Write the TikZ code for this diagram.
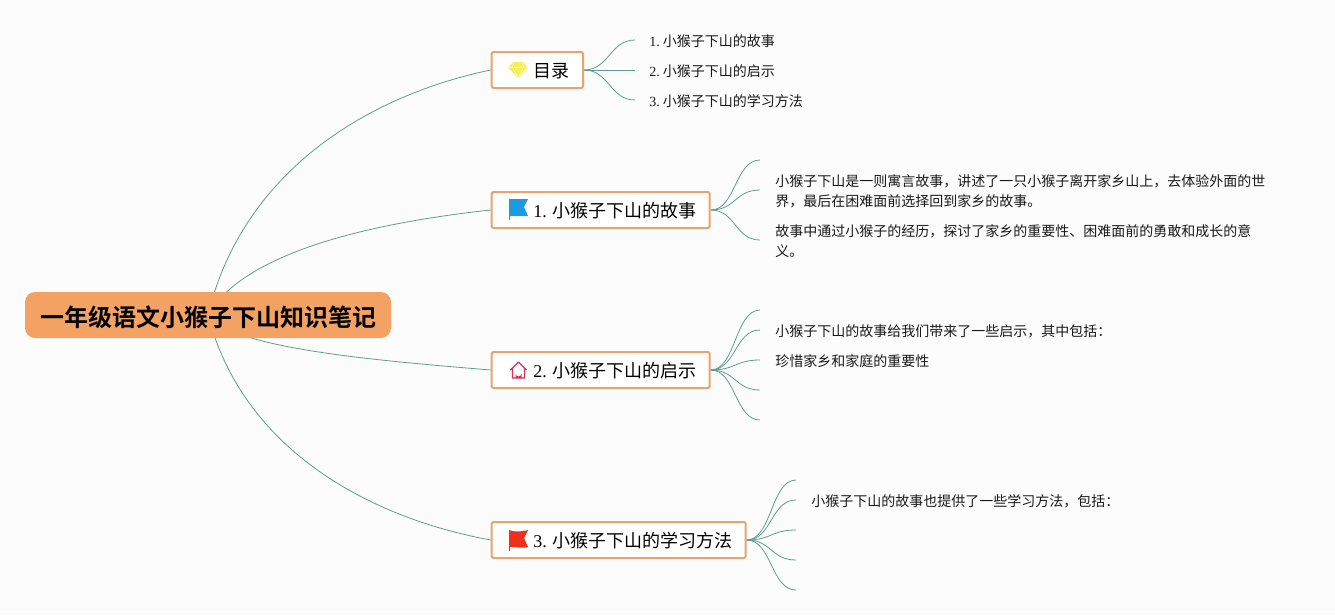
\documentclass[tikz,border=0pt]{standalone}
\usepackage{fontspec}
\setmainfont{Liberation Serif}
\newfontfamily\cjk{Noto Sans CJK SC}
\newfontfamily\cjkb{Noto Sans CJK SC Bold}
\usetikzlibrary{backgrounds}
\definecolor{bgc}{HTML}{FCFCFC}
\definecolor{orangeb}{HTML}{E9A36C}
\definecolor{rootf}{HTML}{F4A264}
\definecolor{linec}{HTML}{5E9E8E}
\definecolor{gemc}{HTML}{F6EE55}
\definecolor{bluef}{HTML}{1E9BE0}
\definecolor{redf}{HTML}{F0301A}
\definecolor{housec}{HTML}{D9305A}
\newcommand{\topictext}[1]{\hspace*{31.2pt}#1}
\tikzset{
  rootbox/.style={fill=rootf,rounded corners=7.5pt,minimum width=274.5pt,minimum height=34.5pt,inner sep=0pt,text height=16.5pt,text depth=0pt,font=\cjkb\fontsize{18}{18}\selectfont,text=black},
  topicbox/.style={draw=orangeb,line width=1.5pt,fill=white,rounded corners=1.5pt,minimum height=27pt,inner sep=0pt,anchor=west,align=left,text height=11.7pt,text depth=0pt,font=\fontsize{13.5}{13.5}\selectfont},
  leaf/.style={anchor=west,inner sep=0pt,font=\fontsize{10.5}{15}\selectfont,align=left,text=black!90},
  conn/.style={draw=linec,line width=0.6pt},
}
\begin{document}
\begin{tikzpicture}[x=0.75pt,y=-0.75pt]
\useasboundingbox (0,0) rectangle (1335,615);
% root and topics
\node[rootbox] (root) at (208,315) {一年级语文小猴子下山知识笔记};
\node[topicbox,text width=68.5pt] (t0) at (490.7,70) {\topictext{\cjk 目录}};
\node[topicbox,text width=163.5pt] (t1) at (490.7,210) {\topictext{1.\hspace{4pt}{\cjk 小猴子下山的故事}}};
\node[topicbox,text width=163.5pt] (t2) at (490.7,370) {\topictext{2.\hspace{4pt}{\cjk 小猴子下山的启示}}};
\node[topicbox,text width=190.5pt] (t3) at (490.7,540) {\topictext{3.\hspace{4pt}{\cjk 小猴子下山的学习方法}}};
% texts
\node[leaf] (a1) at (649,41) {1.\hspace{2.3pt}{\cjk 小猴子下山的故事}};
\node[leaf] (a2) at (649,71) {2.\hspace{2.3pt}{\cjk 小猴子下山的启示}};
\node[leaf] (a3) at (649,101) {3.\hspace{2.3pt}{\cjk 小猴子下山的学习方法}};
\node[leaf] (b2) at (775,191) {\cjk 小猴子下山是一则寓言故事，讲述了一只小猴子离开家乡山上，去体验外面的世\\\cjk 界，最后在困难面前选择回到家乡的故事。};
\node[leaf] (b3) at (775,241) {\cjk 故事中通过小猴子的经历，探讨了家乡的重要性、困难面前的勇敢和成长的意\\\cjk 义。};
\node[leaf] (c2) at (775,331) {\cjk 小猴子下山的故事给我们带来了一些启示，其中包括：};
\node[leaf] (c3) at (775,361) {\cjk 珍惜家乡和家庭的重要性};
\node[leaf] (d2) at (811,501) {\cjk 小猴子下山的故事也提供了一些学习方法，包括：};
% free ends
\coordinate (ea1) at (635,40);\coordinate (ea2) at (635,70);\coordinate (ea3) at (635,100);
\coordinate (eb1) at (760,160);\coordinate (eb2) at (760,190);\coordinate (eb3) at (760,240);
\coordinate (ec1) at (760,310);\coordinate (ec2) at (760,330);\coordinate (ec3) at (760,360);\coordinate (ec4) at (760,390);\coordinate (ec5) at (760,420);
\coordinate (ed1) at (796,480);\coordinate (ed2) at (796,500);\coordinate (ed3) at (796,530);\coordinate (ed4) at (796,560);\coordinate (ed5) at (796,590);
\begin{scope}[on background layer]
\fill[bgc] (0,0) rectangle (1335,615);
\draw[conn] (root.center) .. controls (243,170) and (370,95) .. (t0.west);
\draw[conn] (root.center) .. controls (245,250) and (380,222) .. (t1.west);
\draw[conn] (root.center) .. controls (232,348) and (370,360) .. (t2.west);
\draw[conn] (root.center) .. controls (243,450) and (370,518) .. (t3.west);
\foreach \e in {ea1,ea2,ea3}{\draw[conn] (t0.east) .. controls +(25,0) and +(-25,0) .. (\e);}
\foreach \e in {eb1,eb2,eb3}{\draw[conn] (t1.east) .. controls +(25,0) and +(-25,0) .. (\e);}
\foreach \e in {ec1,ec2,ec3,ec4,ec5}{\draw[conn] (t2.east) .. controls +(25,0) and +(-25,0) .. (\e);}
\foreach \e in {ed1,ed2,ed3,ed4,ed5}{\draw[conn] (t3.east) .. controls +(25,0) and +(-25,0) .. (\e);}
\end{scope}
% icons
\fill[gemc] (513,62) -- (523,62) -- (527.5,67.5) -- (518,78.5) -- (508.5,67.5) -- cycle;
\draw[white,line width=0.3pt] (509,67.5) -- (527,67.5) (514,62.5) -- (512.5,67.5) -- (518,78) -- (523.5,67.5) -- (522,62.5);
\fill[bluef] (509,199) -- (528,199) -- (524,207) -- (528,216) -- (510,216) -- (510,220) -- (509,220) -- cycle;
\draw[housec,line width=1pt,line join=round] (510.5,370) -- (518.5,362) -- (526.5,370) (512.5,368.5) -- (512.5,378) -- (524.5,378) -- (524.5,368.5);
\fill[housec] (515.5,378) -- (515.5,373.5) arc[start angle=180,end angle=0,radius=3] -- (521.5,378) -- cycle;
\fill[redf] (509,530) .. controls (514,532) and (520,532) .. (528,530) -- (524,538) -- (528,547) .. controls (520,549) and (514,546) .. (510,547) -- (510,551) -- (509,551) -- cycle;
\end{tikzpicture}
\end{document}
